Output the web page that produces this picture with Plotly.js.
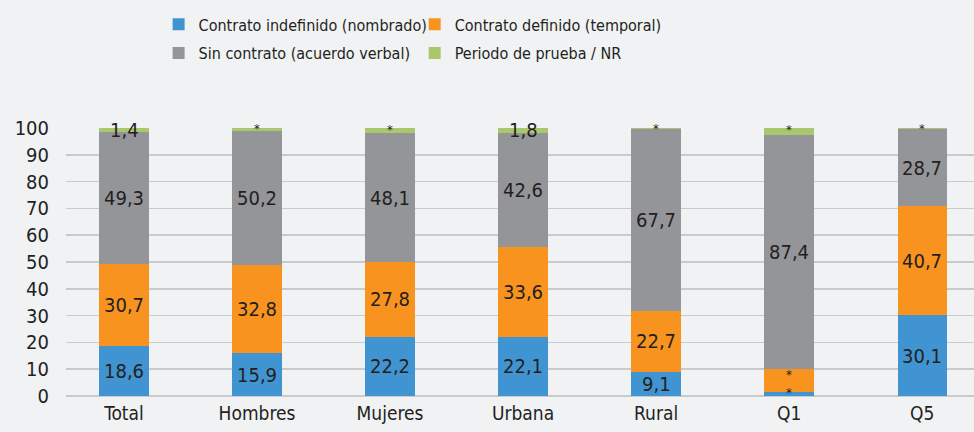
<!DOCTYPE html>
<html>
<head>
<meta charset="utf-8">
<script src="https://cdn.plot.ly/plotly-3.0.1.min.js"></script>
<style>html,body{margin:0;padding:0;background:#f1f2f4;}#chart{width:974px;height:432px;}</style>
</head>
<body>
<div id="chart"></div>
<script>
var categories = ['Total', 'Hombres', 'Mujeres', 'Urbana', 'Rural', 'Q1', 'Q5'];

var seriesNames = ['Contrato indefinido (nombrado)', 'Contrato definido (temporal)', 'Sin contrato (acuerdo verbal)', 'Periodo de prueba / NR'];

var indefinido = [18.6, 15.9, 22.2, 22.1, 9.1, 1.5, 30.1];
var definido   = [30.7, 32.8, 27.8, 33.6, 22.7, 8.6, 40.7];
var sinContrato = [49.3, 50.2, 48.1, 42.6, 67.7, 87.4, 28.7];
var prueba     = [1.4, 1.1, 1.9, 1.8, 0.5, 2.5, 0.5];

var indefinidoLabels = ['18,6', '15,9', '22,2', '22,1', '9,1', '*', '30,1'];
var definidoLabels   = ['30,7', '32,8', '27,8', '33,6', '22,7', '*', '40,7'];
var sinContratoLabels = ['49,3', '50,2', '48,1', '42,6', '67,7', '87,4', '28,7'];
var pruebaLabels     = ['1,4', '*', '*', '1,8', '*', '*', '*'];

var tickValues = [0, 10, 20, 30, 40, 50, 60, 70, 80, 90, 100];

var FONT = '"DejaVu Sans Condensed", "Liberation Sans Narrow", "Arial Narrow", sans-serif';
var colors = ['#4194d2', '#f7931e', '#939598', '#a9c76d'];
var allValues = [indefinido, definido, sinContrato, prueba];
var allLabels = [indefinidoLabels, definidoLabels, sinContratoLabels, pruebaLabels];
var legendIds = ['legend', 'legend2', 'legend', 'legend2'];

var traces = allValues.map(function (vals, i) {
  return {
    type: 'bar',
    name: seriesNames[i],
    x: categories,
    y: vals,
    marker: {color: colors[i], line: {width: 0}},
    legend: legendIds[i],
    legendgroup: 'g' + i,
    hoverinfo: 'none'
  };
});

var annotations = [];
var base = categories.map(function () { return 0; });
allValues.forEach(function (vals, i) {
  vals.forEach(function (v, j) {
    var lab = allLabels[i][j];
    var isStar = lab === '*';
    var mid = base[j] + v / 2;
    var top = base[j] + v;
    annotations.push({
      x: categories[j], y: isStar ? (mid + top) / 2 : mid, xref: 'x', yref: 'y',
      text: lab, showarrow: false,
      xanchor: 'center', yanchor: 'middle',
      font: {family: FONT, size: isStar ? 13 : 20, color: '#231f20'}
    });
    base[j] += v;
  });
});

var legendFont = {family: FONT, size: 16, color: '#231f20'};

var layout = {
  width: 974, height: 432,
  paper_bgcolor: '#f1f2f4', plot_bgcolor: '#f1f2f4',
  margin: {l: 66, r: 0, t: 128, b: 36},
  barmode: 'stack',
  bargap: 0.63,
  font: {family: FONT, color: '#231f20'},
  showlegend: true,
  legend: {
    orientation: 'v', x: 0.102, xanchor: 'left', y: 1.45, yanchor: 'top',
    bgcolor: 'rgba(0,0,0,0)', traceorder: 'grouped', tracegroupgap: 5,
    font: legendFont, itemclick: false
  },
  legend2: {
    orientation: 'v', x: 0.384, xanchor: 'left', y: 1.45, yanchor: 'top',
    bgcolor: 'rgba(0,0,0,0)', traceorder: 'grouped', tracegroupgap: 5,
    font: legendFont, itemclick: false
  },
  xaxis: {
    type: 'category', range: [-0.436, 6.39],
    showgrid: false, zeroline: false, showline: false, ticks: '',
    tickfont: {family: FONT, size: 19, color: '#231f20'},
    ticklabelstandoff: 4, fixedrange: true
  },
  yaxis: {
    range: [0, 100], tickvals: tickValues,
    showgrid: true, gridcolor: '#c9cacc', gridwidth: 1.5,
    zeroline: true, zerolinecolor: '#c9cacc', zerolinewidth: 1.5,
    showline: false, ticks: '',
    tickfont: {family: FONT, size: 20, color: '#231f20'},
    ticklabelstandoff: 16, fixedrange: true
  },
  annotations: annotations
};

Plotly.newPlot('chart', traces, layout, {displayModeBar: false, staticPlot: true});
</script>
</body>
</html>
